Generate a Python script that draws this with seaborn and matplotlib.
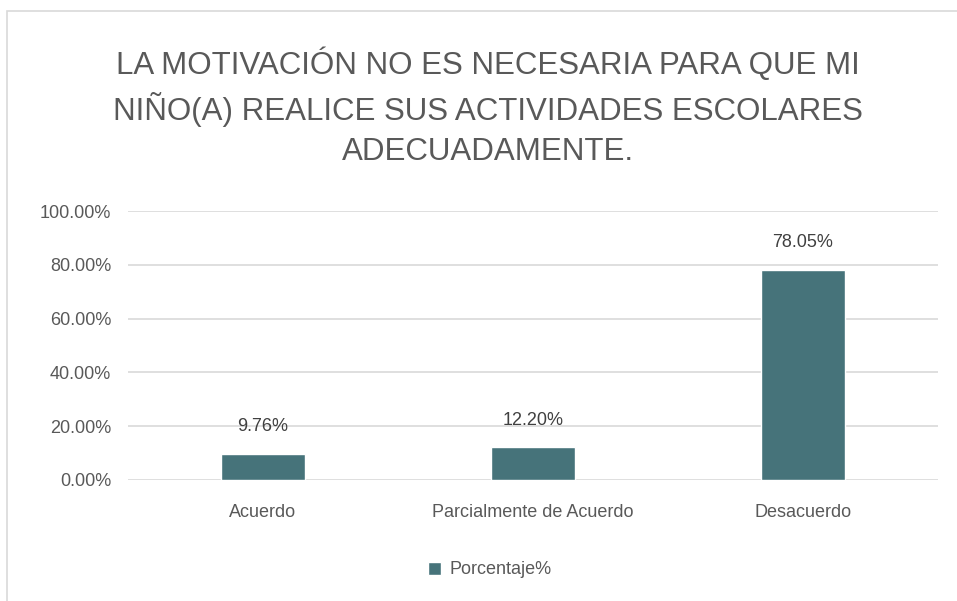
import matplotlib
matplotlib.use("Agg")
import matplotlib.pyplot as plt
import seaborn as sns
import pandas as pd
from matplotlib.patches import Rectangle

categorias = ["Acuerdo", "Parcialmente de Acuerdo", "Desacuerdo"]
porcentajes = [9.76, 12.20, 78.05]
serie = "Porcentaje%"
titulo = ("LA MOTIVACIÓN NO ES NECESARIA PARA QUE MI\n"
          "NIÑO(A) REALICE SUS ACTIVIDADES ESCOLARES\n"
          "ADECUADAMENTE.")
ticks_y = [0, 20, 40, 60, 80, 100]

sns.set_style("white")
plt.rcParams['font.family'] = ['Liberation Sans', 'DejaVu Sans']

color_barra = "#46737A"
gris = "#595959"

df = pd.DataFrame({"cat": categorias, "val": porcentajes})

fig = plt.figure(figsize=(9.57, 6.01), dpi=100)
# marco del grafico
fig.patches.append(Rectangle((7 / 957, -0.1), 1.2, 1 - 11 / 601 + 0.1,
                             transform=fig.transFigure, fill=False,
                             edgecolor="#D9D9D9", linewidth=1.2))

ax = fig.add_axes([128 / 957, 1 - 480 / 601, 810 / 957, 269 / 601])
sns.barplot(data=df, x="cat", y="val", color=color_barra, width=0.31,
            saturation=1, label=serie, ax=ax)

ax.set_ylim(0, 100)
ax.set_xlim(-0.5, 2.5)
ax.set_yticks(ticks_y)
ax.set_yticklabels([f"{t:.2f}%" for t in ticks_y], fontsize=13, color=gris)
ax.tick_params(axis="x", labelsize=13, labelcolor=gris, pad=17, length=0)
ax.tick_params(axis="y", pad=12, length=0)
ax.set_xlabel("")
ax.set_ylabel("")
ax.yaxis.grid(True, color="#D9D9D9", linewidth=1.2)
ax.set_axisbelow(True)
for s in ax.spines.values():
    s.set_visible(False)

for i, v in enumerate(porcentajes):
    ax.annotate(f"{v:.2f}%", (i, v), xytext=(0, 19.5), textcoords="offset points",
                ha="center", va="center", fontsize=13, color="#404040")

fig.text(488 / 957, 1 - 107 / 601, titulo, ha="center", va="center",
         fontsize=22.5, color=gris, linespacing=1.42)

leg = ax.legend(loc="center", bbox_to_anchor=(490 / 957, 1 - 570 / 601),
                bbox_transform=fig.transFigure, frameon=False,
                handlelength=0.7, handleheight=0.7, handletextpad=0.5,
                fontsize=13)
for t in leg.get_texts():
    t.set_color(gris)

fig.savefig("out.png", dpi=100)
